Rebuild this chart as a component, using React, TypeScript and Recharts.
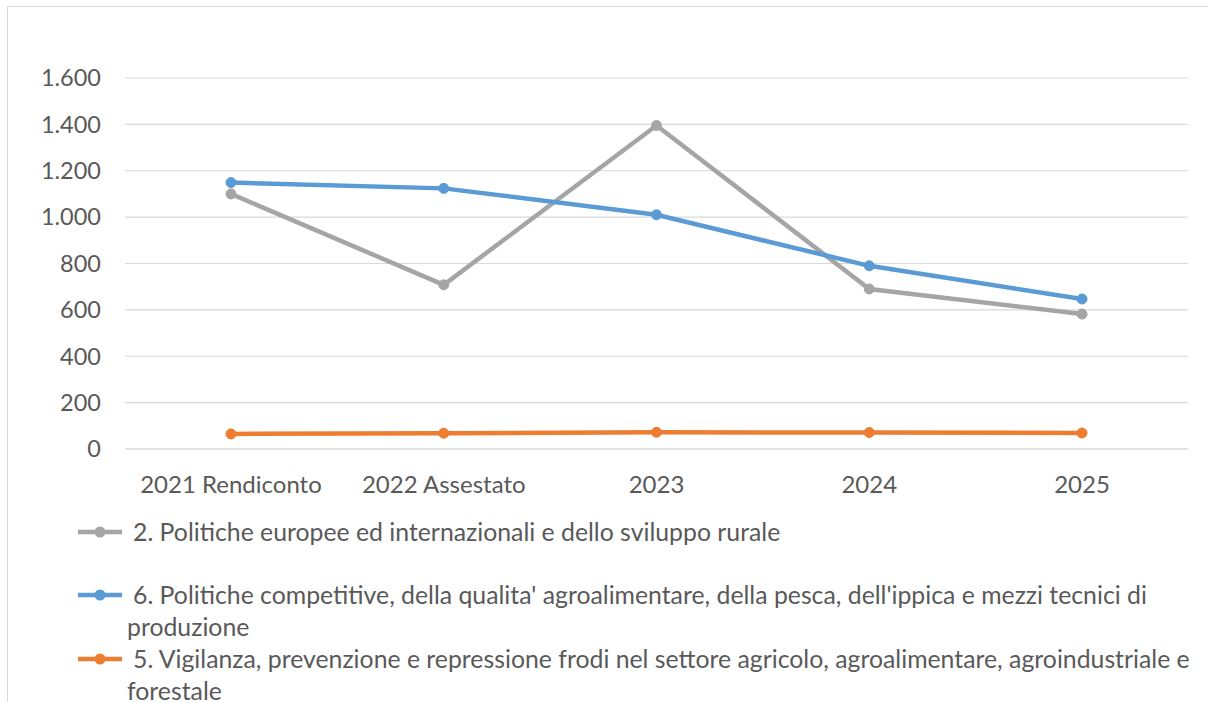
import React from 'react';
import {
  LineChart,
  Line,
  XAxis,
  YAxis,
  CartesianGrid,
  Legend
} from 'recharts';

const YEARS = ['2021 Rendiconto', '2022 Assestato', '2023', '2024', '2025'];

const EUROPEE = [1100, 708, 1395, 690, 582];
const COMPETITIVE = [1149, 1124, 1010, 790, 647];
const VIGILANZA = [65, 68, 72, 71, 69];

const Y_TICKS = [0, 200, 400, 600, 800, 1000, 1200, 1400, 1600];

const SERIES = [
  { key: 'europee', name: '2. Politiche europee ed internazionali e dello sviluppo rurale', color: '#A5A5A5' },
  {
    key: 'competitive',
    name: "6. Politiche competitive, della qualita' agroalimentare, della pesca, dell'ippica e mezzi tecnici di produzione",
    color: '#5B9BD5'
  },
  {
    key: 'vigilanza',
    name: '5. Vigilanza, prevenzione e repressione frodi nel settore agricolo, agroalimentare, agroindustriale e forestale',
    color: '#ED7D31'
  }
];

const data = YEARS.map((year, i) => ({
  year,
  europee: EUROPEE[i],
  competitive: COMPETITIVE[i],
  vigilanza: VIGILANZA[i]
}));

const FONT = 'Lato, "Open Sans", sans-serif';
const TEXT = '#595959';

const fmt = (v: number) => String(v).replace(/\B(?=(\d{3})+(?!\d))/g, '.');

function LegendBox() {
  return (
    <div style={{ height: 197, width: 1250, paddingTop: 6, boxSizing: 'border-box', fontFamily: FONT, fontSize: 24.8, color: TEXT }}>
      {SERIES.map((s, i) => (
        <div
          key={s.key}
          style={{ display: 'flex', alignItems: 'flex-start', lineHeight: '32px', marginTop: i === 1 ? 31 : 0 }}
        >
          {/** line + dot icon */}
          <svg width={44} height={32} style={{ marginLeft: 70, flexShrink: 0 }}>
            <line x1={0} y1={16} x2={44} y2={16} stroke={s.color} strokeWidth={4.5} />
            <circle cx={22} cy={16} r={5.5} fill={s.color} />
          </svg>
          <div style={{ marginLeft: 5, width: 1092, flexShrink: 0, textIndent: 6, textAlign: 'left' }}>{s.name}</div>
        </div>
      ))}
    </div>
  );
}

export default function App() {
  return (
    <div style={{ position: 'fixed', inset: 0, overflow: 'hidden', background: '#fff' }}>
      <div
        style={{
          position: 'absolute',
          left: 7,
          top: 6,
          width: 1240,
          height: 720,
          border: '1px solid #D9D9D9'
        }}
      >
        <LineChart width={1210} height={700} data={data} margin={{ top: 71, right: 30, bottom: 0, left: 0 }}>
          <CartesianGrid vertical={false} stroke="#D9D9D9" strokeWidth={1.2} />
          <XAxis
            dataKey="year"
            padding={{ left: 106, right: 106 }}
            height={61}
            axisLine={{ stroke: '#D9D9D9' }}
            tickLine={false}
            tickSize={0}
            tickMargin={27}
            tick={{ fill: TEXT, fontSize: 24, fontFamily: FONT }}
            interval={0}
          />
          <YAxis
            width={117}
            domain={[0, 1600]}
            ticks={Y_TICKS}
            tickFormatter={fmt}
            axisLine={false}
            tickLine={false}
            tickSize={0}
            tickMargin={24}
            tick={{ fill: TEXT, fontSize: 23.5, fontFamily: FONT }}
          />
          <Legend verticalAlign="bottom" content={() => <LegendBox />} />
          {SERIES.map(s => (
            <Line
              key={s.key}
              dataKey={s.key}
              name={s.name}
              stroke={s.color}
              strokeWidth={4.5}
              dot={{ r: 5, fill: s.color, stroke: s.color, strokeWidth: 1 }}
              activeDot={false}
              isAnimationActive={false}
            />
          ))}
        </LineChart>
      </div>
    </div>
  );
}
